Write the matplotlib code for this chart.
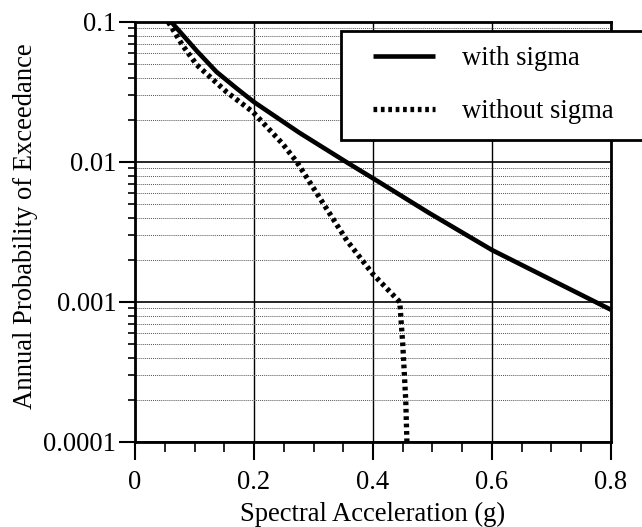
# Curva de peligro sísmico: con y sin sigma
import matplotlib.pyplot as plt
from matplotlib.ticker import LogLocator, FixedLocator, NullFormatter
from matplotlib.legend_handler import HandlerLine2D

plt.rcParams['font.family'] = ['Liberation Serif', 'DejaVu Serif']

# Datos
sa_with = [0.061, 0.104, 0.137, 0.171, 0.2, 0.276, 0.355, 0.41, 0.494, 0.6, 0.69, 0.8]
p_with = [0.1, 0.062, 0.044, 0.0335, 0.0268, 0.0162, 0.010, 0.0072, 0.00433, 0.00235, 0.00151, 0.00088]

sa_without = [0.056, 0.08, 0.104, 0.154, 0.198, 0.248, 0.272, 0.308, 0.356, 0.4, 0.445, 0.45, 0.455, 0.457]
p_without = [0.1, 0.068, 0.0493, 0.0316, 0.0228, 0.0135, 0.010, 0.00575, 0.00275, 0.00158, 0.001, 0.0005, 0.0002, 0.0001]

x_ticks = [0, 0.2, 0.4, 0.6, 0.8]
x_labels = ["0", "0.2", "0.4", "0.6", "0.8"]
y_ticks = [0.0001, 0.001, 0.01, 0.1]
y_labels = ["0.0001", "0.001", "0.01", "0.1"]

fs = 19.2

fig = plt.figure(figsize=(6.42, 5.27), dpi=100)
ax = fig.add_axes([0.2103, 0.1613, 0.7414, 0.797])

ax.plot(sa_with, p_with, color="black", lw=3.3, solid_capstyle="butt", label="with sigma")
ax.plot(sa_without, p_without, color="black", lw=3.8, linestyle=(0, (0.7, 0.7)),
        label="without sigma")

ax.set_yscale("log")
ax.set_xlim(0, 0.8)
ax.set_ylim(0.0001, 0.1)

ax.set_xticks(x_ticks)
ax.set_xticklabels(x_labels)
ax.xaxis.set_minor_locator(FixedLocator([0.05, 0.1, 0.15, 0.25, 0.3, 0.35, 0.45, 0.5, 0.55, 0.65, 0.7, 0.75]))
ax.set_yticks(y_ticks)
ax.set_yticklabels(y_labels)
ax.yaxis.set_minor_locator(LogLocator(base=10, subs=range(2, 10)))
ax.yaxis.set_minor_formatter(NullFormatter())

ax.tick_params(axis="both", which="major", direction="out", labelsize=fs, width=1.5, color="black")
ax.tick_params(axis="x", which="major", length=13, pad=7)
ax.tick_params(axis="y", which="major", length=11.5, pad=2)
ax.tick_params(axis="x", which="minor", direction="out", length=7, width=1.2)
ax.tick_params(axis="y", which="minor", direction="out", length=5, width=1.2)

# Rejilla
ax.grid(True, axis="x", which="major", color="black", lw=1.0)
ax.grid(True, axis="y", which="major", color="black", lw=1.2)
ax.grid(True, axis="y", which="minor", color="#555555", lw=0.7, linestyle=(0, (1, 1)))
ax.set_axisbelow(True)

for s in ax.spines.values():
    s.set_linewidth(2)

ax.set_xlabel("Spectral Acceleration (g)", fontsize=fs, labelpad=5)
ax.set_ylabel("Annual Probability of Exceedance", fontsize=fs)
ax.yaxis.set_label_coords(-0.203, 0.514)

leg = fig.legend(loc="upper left", bbox_to_anchor=(341 / 642, 1 - 31 / 527, 0.5, 0.0),
                 fontsize=fs, frameon=True, fancybox=False, edgecolor="black",
                 framealpha=1, handlelength=2.95, handletextpad=1.0, borderpad=0.58,
                 labelspacing=1.05, borderaxespad=0, mode="expand",
                 handler_map={ax.lines[0]: HandlerLine2D(xpad=0.62),
                              ax.lines[1]: HandlerLine2D(xpad=0.62)})
leg.get_frame().set_linewidth(2)

fig.savefig("out.png", dpi=100)
